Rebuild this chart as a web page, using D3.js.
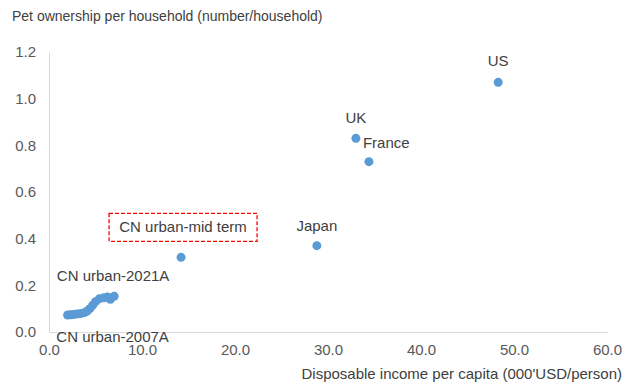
<!DOCTYPE html>
<html>
<head>
<meta charset="utf-8">
<script src="https://cdn.jsdelivr.net/npm/d3@7/dist/d3.min.js"></script>
<style>
  html, body { margin: 0; padding: 0; background: #fff; }
  svg { display: block; font-family: "Liberation Sans", Arial, sans-serif; }
</style>
</head>
<body>
<svg id="chart" width="636" height="385"></svg>
<script>
// China urban households, 2007A to 2021A
const cnYears = [2007, 2008, 2009, 2010, 2011, 2012, 2013, 2014, 2015, 2016, 2017, 2018, 2019, 2020, 2021];
const cnIncome = [2.0, 2.3, 2.6, 3.0, 3.4, 3.8, 4.1, 4.4, 4.7, 5.0, 5.4, 5.9, 6.3, 6.6, 7.0];
const cnPets = [0.073, 0.074, 0.075, 0.077, 0.079, 0.083, 0.090, 0.100, 0.115, 0.130, 0.142, 0.147, 0.150, 0.140, 0.153];

// Reference countries and the mid-term outlook for urban China
const peerNames = ["US", "UK", "France", "Japan", "CN urban-mid term"];
const peerIncome = [48.3, 33.0, 34.4, 28.8, 14.2];
const peerPets = [1.07, 0.83, 0.73, 0.37, 0.32];

const xTicks = [0, 10, 20, 30, 40, 50, 60];
const yTicks = [0, 0.2, 0.4, 0.6, 0.8, 1.0, 1.2];

const svg = d3.select("#chart");
const x = d3.scaleLinear().domain([0, 60]).range([49, 607]);
const y = d3.scaleLinear().domain([0, 1.2]).range([332, 52]);

const textColor = "#404040";
const tickColor = "#595959";
const axisColor = "#d9d9d9";
const dotColor = "#5b9bd5";

// Axes
const xAxis = svg.append("g").attr("transform", `translate(0,${y(0)})`)
  .call(d3.axisBottom(x).tickValues(xTicks).tickFormat(d3.format(".1f")).tickSize(0).tickPadding(12));
const yAxis = svg.append("g").attr("transform", `translate(${x(0)},0)`)
  .call(d3.axisLeft(y).tickValues(yTicks).tickFormat(d3.format(".1f")).tickSize(0).tickPadding(13));
[xAxis, yAxis].forEach(g => {
  g.select(".domain").attr("stroke", axisColor).attr("stroke-width", 1);
  g.selectAll("text").attr("fill", tickColor).attr("font-size", 15)
    .attr("font-family", "'Liberation Sans', Arial, sans-serif");
});

// Axis titles
svg.append("text").attr("x", 12).attr("y", 21).attr("font-size", 14).attr("fill", textColor)
  .text("Pet ownership per household (number/household)");
svg.append("text").attr("x", 622).attr("y", 379).attr("text-anchor", "end").attr("font-size", 15).attr("fill", textColor)
  .text("Disposable income per capita (000'USD/person)");

// China urban time series
svg.append("g").selectAll("circle").data(cnYears).join("circle")
  .attr("cx", (d, i) => x(cnIncome[i]))
  .attr("cy", (d, i) => y(cnPets[i]))
  .attr("r", 4.5)
  .attr("fill", dotColor);

// Peer points
svg.append("g").selectAll("circle").data(peerNames).join("circle")
  .attr("cx", (d, i) => x(peerIncome[i]))
  .attr("cy", (d, i) => y(peerPets[i]))
  .attr("r", 4.5)
  .attr("fill", dotColor);

// Point labels
const lbl = (txt, px, py, anchor) => svg.append("text")
  .attr("x", px).attr("y", py).attr("text-anchor", anchor || "middle")
  .attr("font-size", 15).attr("fill", textColor).text(txt);

lbl("US", x(peerIncome[0]), y(peerPets[0]) - 16);
lbl("UK", x(peerIncome[1]), y(peerPets[1]) - 15);
lbl("France", x(peerIncome[1]) + 7, y(peerPets[1]) + 10, "start");
lbl("Japan", x(peerIncome[3]), y(peerPets[3]) - 15);
lbl("CN urban-2021A", x(cnIncome[14]) - 1, y(cnPets[14]) - 15);
lbl("CN urban-2007A", x(cnIncome[0]) + 45, y(cnPets[0]) + 27);

// Mid-term label with dashed frame
const midX = x(peerIncome[4]), midY = y(peerPets[4]);
svg.append("rect")
  .attr("x", midX - 72).attr("y", midY - 44).attr("width", 148).attr("height", 28)
  .attr("fill", "none").attr("stroke", "#ff0000").attr("stroke-width", 1.3)
  .attr("stroke-dasharray", "4,2");
lbl("CN urban-mid term", midX + 2, midY - 25);
</script>
</body>
</html>
